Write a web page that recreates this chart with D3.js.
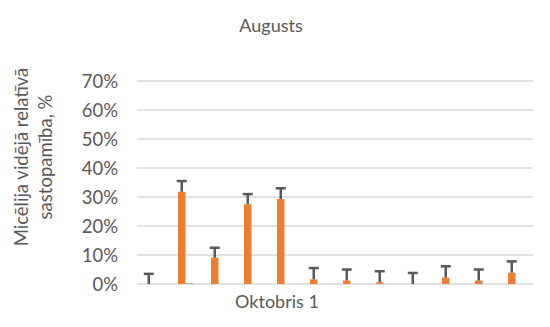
<!DOCTYPE html>
<html>
<head>
<meta charset="utf-8">
<script src="https://cdn.jsdelivr.net/npm/d3@7"></script>
<style>
  html, body { margin: 0; padding: 0; background: #fff; }
  svg { display: block; }
  text { font-family: Lato, "Open Sans", sans-serif; fill: #595959; }
</style>
</head>
<body>
<svg id="chart" width="550" height="327"></svg>
<script>
// Categories (12 sampling points) and their series values in percent
const categories = ["1", "2", "3", "4", "5", "6", "7", "8", "9", "10", "11", "12"];
const seriesNames = ["Vidējā", "Otrā"];
const meanValues = [0, 31.8, 9.1, 27.5, 29.3, 1.6, 1.2, 0.6, 0, 2.2, 1.2, 3.9];
const errorPlus = [3.5, 3.7, 3.4, 3.5, 3.7, 3.9, 3.8, 3.8, 3.8, 3.9, 3.8, 3.9];
const secondValues = [0, 0.3, 0, 0, 0, 0, 0, 0, 0, 0, 0, 0];
const yTicks = [0, 10, 20, 30, 40, 50, 60, 70];

const titleText = "Augusts";
const xTitle = "Oktobris 1";
const yTitleLines = ["Micēlija vidējā relatīvā", "sastopamība, %"];

const svg = d3.select("#chart");
const plot = { left: 136, right: 532, top: 81, bottom: 284 };

const x0 = d3.scaleBand().domain(categories).range([plot.left, plot.right]).padding(0);
const x1 = d3.scaleBand().domain(seriesNames).range([0, x0.bandwidth()]).paddingInner(0).paddingOuter(1.2);
const y = d3.scaleLinear().domain([0, 70]).range([plot.bottom, plot.top]);

// Gridlines
svg.append("g")
  .selectAll("line")
  .data(yTicks)
  .join("line")
  .attr("x1", plot.left + 1)
  .attr("x2", plot.right + 1)
  .attr("y1", d => y(d))
  .attr("y2", d => y(d))
  .attr("stroke", "#d9d9d9")
  .attr("stroke-width", 1.5);

// Y axis tick labels
const yAxis = d3.axisLeft(y).tickValues(yTicks).tickFormat(d => d + "%").tickSize(0).tickPadding(0);
const yg = svg.append("g").attr("transform", `translate(118,0)`).call(yAxis);
yg.select(".domain").remove();
yg.selectAll("text")
  .style("font-size", "18.5px")
  .attr("fill", "#595959")
  .attr("dy", "0.36em");

// Second series bars
svg.append("g")
  .selectAll("rect")
  .data(secondValues)
  .join("rect")
  .attr("x", (d, i) => x0(categories[i]) + x1(seriesNames[1]))
  .attr("width", x1.bandwidth())
  .attr("y", d => y(d))
  .attr("height", d => y(0) - y(d))
  .attr("fill", "#a5a5a5");

// Main bars
svg.append("g")
  .selectAll("rect")
  .data(meanValues)
  .join("rect")
  .attr("x", (d, i) => x0(categories[i]) + x1(seriesNames[0]))
  .attr("width", x1.bandwidth())
  .attr("y", d => y(d))
  .attr("height", d => y(0) - y(d))
  .attr("fill", "#ed7d31");

// Error bars (plus direction)
const eg = svg.append("g").attr("stroke", "#595959").attr("stroke-width", 2.5);
meanValues.forEach((v, i) => {
  const cx = x0(categories[i]) + x1(seriesNames[0]) + x1.bandwidth() / 2;
  const top = y(v + errorPlus[i]);
  eg.append("line").attr("x1", cx).attr("x2", cx).attr("y1", y(v)).attr("y2", top);
  eg.append("line").attr("x1", cx - 5).attr("x2", cx + 5).attr("y1", top).attr("y2", top);
});

// Titles
svg.append("text")
  .attr("x", 271).attr("y", 32)
  .attr("text-anchor", "middle")
  .style("font-size", "18px")
  .text(titleText);

svg.append("text")
  .attr("x", 277).attr("y", 308)
  .attr("text-anchor", "middle")
  .style("font-size", "18px")
  .text(xTitle);

const yt = svg.append("text")
  .attr("transform", "translate(0,157) rotate(-90)")
  .attr("text-anchor", "middle")
  .style("font-size", "18.5px");
yTitleLines.forEach((line, i) => {
  yt.append("tspan").attr("x", 0).attr("y", 28 + i * 24).text(line);
});
</script>
</body>
</html>
